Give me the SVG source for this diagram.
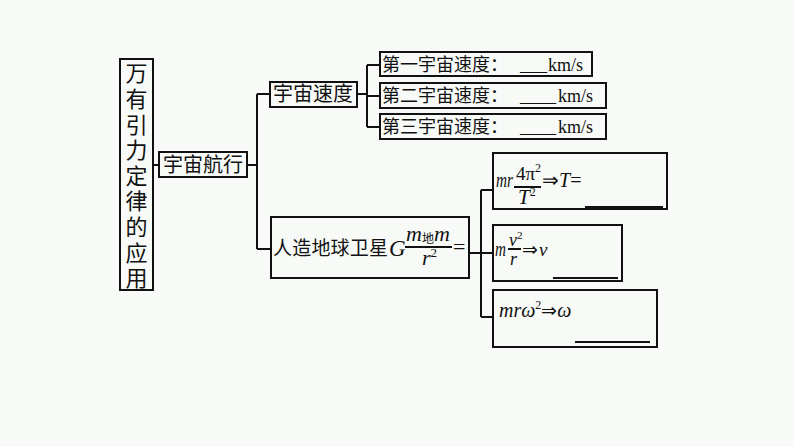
<svg xmlns="http://www.w3.org/2000/svg" width="794" height="447" viewBox="0 0 794 447">
<style>
.box{fill:none;stroke:#111;stroke-width:2}
.ln{fill:none;stroke:#111;stroke-width:2}
.cn{font-family:"Noto Sans CJK SC","Noto Sans",sans-serif;fill:#111}
.it{font-family:"Liberation Serif",serif;font-style:italic;fill:#111}
.rm{font-family:"Liberation Serif",serif;fill:#111}
</style>
<rect width="794" height="447" fill="#f7faf6"/>
<g id="connectors">
<path class="ln" d="M153 165H159M247 165H257M257 94V249M257 94H270M257 249H271"/>
<path class="ln" d="M357 94H367M367 65V127M367 65H380M367 96H380M367 127H380"/>
<path class="ln" d="M469 253H481M481 190V317M481 190H493M481 253H493M481 317H493"/>
</g>
<g id="root">
<rect class="box" x="120" y="59" width="33" height="231"/>
<text class="cn" font-size="22" x="136.5" y="62" writing-mode="vertical-rl" style="letter-spacing:3.6px">万有引力定律的应用</text>
</g>
<g id="n-hangxing">
<rect class="box" x="159" y="152" width="88" height="25"/>
<text class="cn" font-size="20" x="163" y="172" textLength="80">宇宙航行</text>
</g>
<g id="n-sudu">
<rect class="box" x="270" y="82" width="87" height="25"/>
<text class="cn" font-size="20" x="273" y="101" textLength="80">宇宙速度</text>
</g>
<g id="n-v1">
<rect class="box" x="380" y="52" width="212" height="24"/>
<text class="cn" font-size="18" x="382" y="71">第一宇宙速度：<tspan class="rm" x="520">___</tspan><tspan class="rm" x="548">km/s</tspan></text>
</g>
<g id="n-v2">
<rect class="box" x="380" y="83" width="226" height="25"/>
<text class="cn" font-size="18" x="382" y="102">第二宇宙速度：<tspan class="rm" x="520">____</tspan><tspan class="rm" x="558">km/s</tspan></text>
</g>
<g id="n-v3">
<rect class="box" x="380" y="114" width="226" height="25"/>
<text class="cn" font-size="18" x="382" y="133">第三宇宙速度：<tspan class="rm" x="520">____</tspan><tspan class="rm" x="558">km/s</tspan></text>
</g>
<g id="n-weixing">
<rect class="box" x="271" y="217" width="198" height="61"/>
<text class="cn" font-size="19" x="273" y="255" textLength="115">人造地球卫星</text>
<text class="it" font-size="23" x="389" y="256">G</text>
<text class="it" font-size="22" x="406" y="241">m<tspan class="cn" font-size="12" font-style="normal" dy="2">地</tspan><tspan dy="-2">m</tspan></text>
<line class="ln" x1="405" y1="247" x2="452" y2="247" stroke-width="1.3"/>
<text class="it" font-size="22" x="422" y="265">r<tspan class="rm" font-style="normal" font-size="13" dy="-8">2</tspan></text>
<text class="rm" font-size="22" x="453" y="254">=</text>
</g>
<g id="n-T">
<rect class="box" x="493" y="153" width="174" height="56"/>
<text class="it" font-size="20" x="496" y="187" textLength="17" lengthAdjust="spacingAndGlyphs">mr</text>
<text class="rm" font-size="19" x="516" y="180">4π<tspan font-size="12" dy="-8">2</tspan></text>
<line class="ln" x1="514" y1="187" x2="541" y2="187" stroke-width="1.2"/>
<text class="it" font-size="21" x="518" y="204">T<tspan class="rm" font-style="normal" font-size="12" dy="-8">2</tspan></text>
<text class="rm" font-size="20" x="542" y="187">⇒<tspan class="it">T</tspan>=</text>
<line class="ln" x1="585" y1="207" x2="663" y2="207"/>
</g>
<g id="n-v">
<rect class="box" x="493" y="225" width="129" height="56"/>
<text class="it" font-size="20" x="495" y="256" textLength="11" lengthAdjust="spacingAndGlyphs">m</text>
<text class="it" font-size="18" x="509" y="246">v<tspan class="rm" font-style="normal" font-size="11" dy="-7">2</tspan></text>
<line class="ln" x1="508" y1="249" x2="521" y2="249" stroke-width="1.2"/>
<text class="it" font-size="18" x="510" y="265">r</text>
<text class="rm" font-size="19" x="522" y="256">⇒<tspan class="it" dx="1">v</tspan></text>
<line class="ln" x1="553" y1="278" x2="618" y2="278"/>
</g>
<g id="n-w">
<rect class="box" x="493" y="290" width="164" height="57"/>
<text class="it" font-size="20" x="499" y="317">mrω<tspan class="rm" font-style="normal" font-size="12" dy="-8">2</tspan><tspan class="rm" font-style="normal" font-size="19" dy="8">⇒</tspan>ω</text>
<line class="ln" x1="575" y1="342" x2="650" y2="342"/>
</g>
</svg>
